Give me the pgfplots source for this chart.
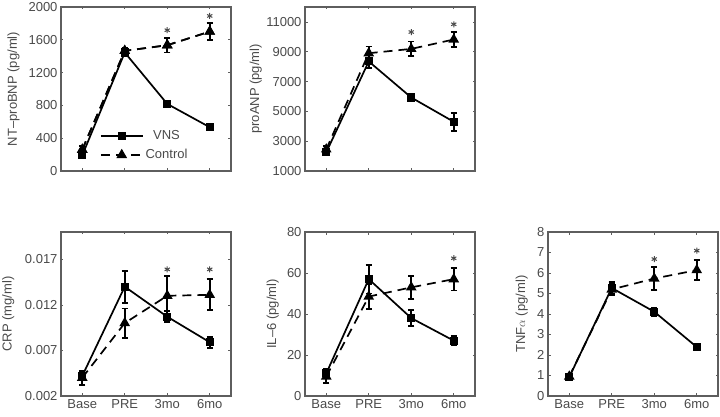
\documentclass[border=0pt]{standalone}
\usepackage{pgfplots}
\pgfplotsset{compat=1.18}
\usepackage{fontspec}
\setmainfont{Liberation Sans}
\definecolor{framegray}{HTML}{5E5E5E}
\definecolor{txtgray}{HTML}{4A4A4A}
\pgfplotsset{
 panel/.style={width=170pt,height=164pt,scale only axis,
  xmin=0.5,xmax=4.5,xtick={1,2,3,4},
  axis line style={draw=framegray,line width=1.2pt},
  tick style={draw=framegray,line width=0.6pt},
  major tick length=2.5pt, tick align=inside,
  tick label style={text=txtgray,font=\fontsize{13}{15}\selectfont},
  label style={text=txtgray,font=\fontsize{13}{15}\selectfont},
  /pgf/number format/assume math mode=true,
  scaled y ticks=false, clip=false,
  ylabel style={at={(axis description cs:#1,0.5)},anchor=center},
 },
 panel/.default=-0.28,
 ebars/.style={error bars/y dir=both,error bars/y explicit,
  error bars/error bar style={line width=1.8pt,solid},
  error bars/error mark options={rotate=90,mark size=3.2pt,line width=1.8pt}},
 vns/.style={black,line width=1.7pt,mark=square*,mark size=3.2pt,mark options={solid},ebars},
 ctrl/.style={black,line width=1.7pt,dash pattern=on 9pt off 6pt,mark=triangle*,mark size=4.5pt,mark options={solid},ebars},
 star/.style={forget plot,only marks,mark=asterisk,mark size=3pt,draw=txtgray,line width=1pt},
}
\begin{document}
\begin{tikzpicture}[x=1pt,y=1pt]
\useasboundingbox (0,0) rectangle (720,417);
% ---------- NT-proBNP
\begin{axis}[panel=-0.28,at={(61pt,246pt)},anchor=south west,
  ymin=0,ymax=2000,ytick={0,400,800,1200,1600,2000},
  yticklabels={0,400,800,1200,1600,2000},xticklabels={},
  ylabel={NT–proBNP (pg/ml)},
  legend style={at={(axis description cs:0.21,0.27)},anchor=north west,draw=none,fill=none,
    font=\fontsize{13}{15}\selectfont,text=txtgray,row sep=4pt},
  legend image code/.code={\draw[#1,mark repeat=2,mark phase=2] plot coordinates {(0pt,0pt) (21pt,0pt) (42pt,0pt)};}]
\addplot[ctrl,forget plot] coordinates {(1,260) +- (0,40) (2,1465) +- (0,40) (3,1534) +- (0,90) (4,1700) +- (0,100)};
\addplot[vns] coordinates {(1,190) +- (0,15) (2,1445) +- (0,40) (3,818) +- (0,15) (4,534) +- (0,15)};
\addlegendentry{VNS}
\addplot[black,line width=1.7pt,dash pattern=on 9pt off 6pt,mark=triangle*,mark size=4.5pt,mark options={solid}] coordinates {(1,260) (2,1465) (3,1534) (4,1700)};
\addlegendentry{Control}
\addplot[star] coordinates {(3,1717) (4,1891)};
\end{axis}
% ---------- proANP
\begin{axis}[panel=-0.29,at={(305pt,246pt)},anchor=south west,
  ymin=1000,ymax=12000,ytick={1000,3000,5000,7000,9000,11000},
  yticklabels={1000,3000,5000,7000,9000,11000},xticklabels={},
  ylabel={proANP (pg/ml)}]
\addplot[ctrl] coordinates {(1,2450) +- (0,200) (2,8900) +- (0,450) (3,9190) +- (0,500) (4,9820) +- (0,500)};
\addplot[vns] coordinates {(1,2250) +- (0,150) (2,8350) +- (0,450) (3,5930) +- (0,250) (4,4300) +- (0,600)};
\addplot[star] coordinates {(3,10321) (4,10840)};
\end{axis}
% ---------- CRP
\begin{axis}[panel=-0.31,at={(61pt,21pt)},anchor=south west,
  ymin=0.002,ymax=0.020,ytick={0.002,0.007,0.012,0.017},
  yticklabels={0.002,0.007,0.012,0.017},xticklabels={Base,PRE,3mo,6mo},
  ylabel={CRP (mg/ml)}]
\addplot[ctrl] coordinates {(1,0.0040) +- (0,0.0008) (2,0.0100) +- (0,0.0016) (3,0.0130) +- (0,0.0022) (4,0.0131) +- (0,0.0017)};
\addplot[vns] coordinates {(1,0.0042) +- (0,0.0004) (2,0.0140) +- (0,0.00175) (3,0.0107) +- (0,0.0006) (4,0.0079) +- (0,0.0006)};
\addplot[star] coordinates {(3,0.0159) (4,0.0159)};
\end{axis}
% ---------- IL-6
\begin{axis}[panel=-0.19,at={(305pt,21pt)},anchor=south west,
  ymin=0,ymax=80,ytick={0,20,40,60,80},
  yticklabels={0,20,40,60,80},xticklabels={Base,PRE,3mo,6mo},
  ylabel={IL–6 (pg/ml)}]
\addplot[ctrl] coordinates {(1,9.5) +- (0,3) (2,48.5) +- (0,6) (3,53) +- (0,5.7) (4,57) +- (0,5.5)};
\addplot[vns] coordinates {(1,11) +- (0,2) (2,57) +- (0,7) (3,38) +- (0,4) (4,27) +- (0,2.3)};
\addplot[star] coordinates {(4,67.2)};
\end{axis}
% ---------- TNF-alpha
\begin{axis}[panel=-0.155,at={(548pt,21pt)},anchor=south west,
  ymin=0,ymax=8,ytick={0,1,2,3,4,5,6,7,8},
  yticklabels={0,1,2,3,4,5,6,7,8},xticklabels={Base,PRE,3mo,6mo},
  ylabel={TNF$\alpha$ (pg/ml)}]
\addplot[ctrl] coordinates {(1,0.95) +- (0,0.08) (2,5.2) +- (0,0.3) (3,5.73) +- (0,0.55) (4,6.14) +- (0,0.5)};
\addplot[vns] coordinates {(1,0.92) +- (0,0.08) (2,5.27) +- (0,0.28) (3,4.11) +- (0,0.2) (4,2.39) +- (0,0.05)};
\addplot[star] coordinates {(3,6.68) (4,7.09)};
\end{axis}
\end{tikzpicture}
\end{document}
